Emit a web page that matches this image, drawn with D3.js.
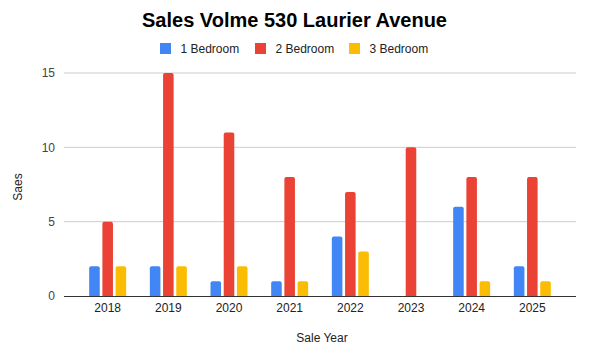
<!DOCTYPE html>
<html>
<head>
<meta charset="utf-8">
<script src="https://cdn.jsdelivr.net/npm/d3@7"></script>
<style>
    body { margin: 0; background: #fff; }
    text { font-family: "Liberation Sans", Arial, sans-serif; }
</style>
</head>
<body>
<div id="chart"></div>
<script>
// chart data
const years = ["2018", "2019", "2020", "2021", "2022", "2023", "2024", "2025"];
const seriesNames = ["1 Bedroom", "2 Bedroom", "3 Bedroom"];
const oneBedroom = [2, 2, 1, 1, 4, 0, 6, 2];
const twoBedroom = [5, 15, 11, 8, 7, 10, 8, 8];
const threeBedroom = [2, 2, 2, 1, 3, 0, 1, 1];
const yTicks = [0, 5, 10, 15];
const colors = ["#4285F4", "#EA4335", "#FBBC04"];

const width = 590, height = 354;
const margin = {top: 73, right: 14, bottom: 58, left: 64};
const innerW = width - margin.left - margin.right;
const innerH = height - margin.top - margin.bottom;

const svg = d3.select("#chart").append("svg")
    .attr("width", width)
    .attr("height", height);

// title + legend
svg.append("text")
    .attr("x", 294.5)
    .attr("y", 27)
    .attr("text-anchor", "middle")
    .style("font-size", "20px")
    .style("font-weight", "bold")
    .attr("fill", "#000")
    .text("Sales Volme 530 Laurier Avenue");

const legendX = [160, 255, 349];
const legend = svg.append("g");
seriesNames.forEach((name, i) => {
    legend.append("rect")
        .attr("x", legendX[i])
        .attr("y", 43)
        .attr("width", 11)
        .attr("height", 11)
        .attr("fill", colors[i]);
    legend.append("text")
        .attr("x", legendX[i] + 20.5)
        .attr("y", 53)
        .style("font-size", "12px")
        .attr("fill", "#222")
        .text(name);
});

const g = svg.append("g")
    .attr("transform", "translate(" + margin.left + "," + margin.top + ")");

const x = d3.scaleBand()
    .domain(years)
    .range([0, innerW])
    .paddingInner(0)
    .paddingOuter(0.22);

const xSub = d3.scaleBand()
    .domain(seriesNames)
    .range([x.bandwidth() / 2 - 18.5, x.bandwidth() / 2 + 18.5])
    .paddingInner(0.2);

const y = d3.scaleLinear()
    .domain([0, 15])
    .range([innerH, 0]);

// gridlines
g.selectAll(".grid")
    .data(yTicks.filter(d => d > 0))
    .enter().append("line")
    .attr("class", "grid")
    .attr("x1", 0)
    .attr("x2", innerW)
    .attr("y1", d => y(d))
    .attr("y2", d => y(d))
    .attr("stroke", "#cccccc")
    .attr("stroke-width", 1);

// y tick labels
g.selectAll(".ytick")
    .data(yTicks)
    .enter().append("text")
    .attr("class", "ytick")
    .attr("x", -9)
    .attr("y", d => y(d))
    .attr("dy", "0.35em")
    .attr("text-anchor", "end")
    .style("font-size", "12px")
    .attr("fill", "#444")
    .text(d => d);

// bars
const allSeries = [oneBedroom, twoBedroom, threeBedroom];
const barData = [];
years.forEach((yr, i) => {
    seriesNames.forEach((s, j) => {
        barData.push({year: yr, series: s, value: allSeries[j][i], color: colors[j]});
    });
});

function barPath(d) {
    const x0 = x(d.year) + xSub(d.series);
    const w = xSub.bandwidth();
    const y0 = y(d.value), y1 = y(0);
    const r = Math.min(2, (y1 - y0) / 2);
    return "M" + x0 + "," + y1 +
        "V" + (y0 + r) +
        "Q" + x0 + "," + y0 + " " + (x0 + r) + "," + y0 +
        "H" + (x0 + w - r) +
        "Q" + (x0 + w) + "," + y0 + " " + (x0 + w) + "," + (y0 + r) +
        "V" + y1 + "Z";
}

g.selectAll(".bar")
    .data(barData.filter(d => d.value > 0))
    .enter().append("path")
    .attr("class", "bar")
    .attr("d", barPath)
    .attr("fill", d => d.color);

// baseline
g.append("line")
    .attr("x1", 0)
    .attr("x2", innerW)
    .attr("y1", y(0) + 0.5)
    .attr("y2", y(0) + 0.5)
    .attr("stroke", "#333")
    .attr("stroke-width", 1);

// x tick labels
g.selectAll(".xtick")
    .data(years)
    .enter().append("text")
    .attr("class", "xtick")
    .attr("x", d => x(d) + x.bandwidth() / 2)
    .attr("y", innerH + 16)
    .attr("text-anchor", "middle")
    .style("font-size", "12px")
    .attr("fill", "#222")
    .text(d => d);

// axis titles
svg.append("text")
    .attr("x", 322)
    .attr("y", 342)
    .attr("text-anchor", "middle")
    .style("font-size", "12px")
    .attr("fill", "#222")
    .text("Sale Year");

svg.append("text")
    .attr("transform", "translate(22,187) rotate(-90)")
    .attr("text-anchor", "middle")
    .style("font-size", "12px")
    .attr("fill", "#222")
    .text("Saes");
</script>
</body>
</html>
